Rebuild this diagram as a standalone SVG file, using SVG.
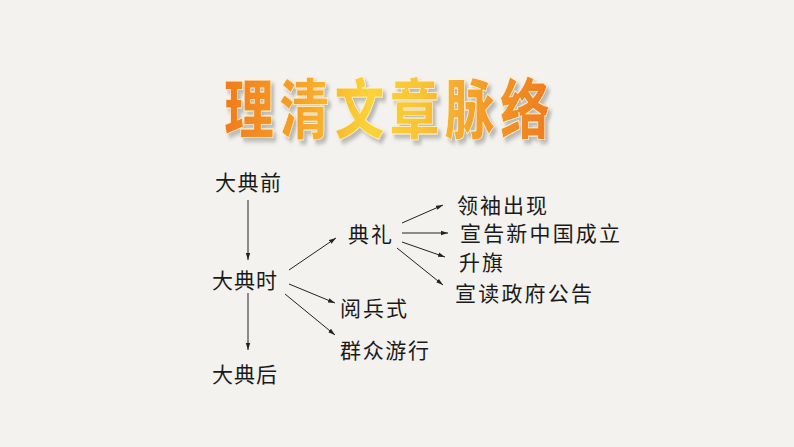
<svg xmlns="http://www.w3.org/2000/svg" width="794" height="447" viewBox="0 0 794 447">
  <defs>
    <style>
      .t { font-family: "Noto Sans CJK SC", "Noto Sans", sans-serif; font-size: 21px; fill: #1a1a1a; }
      .c line { stroke: #222; stroke-width: 1; marker-end: url(#ah); }
      .title { font-family: "Noto Sans CJK SC", sans-serif; font-weight: 900; font-size: 50px; }
    </style>
    <marker id="ah" markerUnits="userSpaceOnUse" markerWidth="8" markerHeight="6" refX="7" refY="3" orient="auto">
      <path d="M0,0.8 L7,3 L0,5.2 z" fill="#222"/>
    </marker>
    <linearGradient id="tg" gradientUnits="userSpaceOnUse" x1="222" y1="0" x2="552" y2="0">
      <stop offset="0" stop-color="#f07a1c"/>
      <stop offset="0.25" stop-color="#f6a52a"/>
      <stop offset="0.45" stop-color="#fad33a"/>
      <stop offset="0.6" stop-color="#f9c436"/>
      <stop offset="0.8" stop-color="#f39a2a"/>
      <stop offset="1" stop-color="#ee7b1f"/>
    </linearGradient>
    <filter id="sh" x="-10%" y="-20%" width="130%" height="150%">
      <feGaussianBlur in="SourceAlpha" stdDeviation="1.5"/>
      <feOffset dx="3" dy="3" result="b"/>
      <feFlood flood-color="#8a8a8a" flood-opacity="0.55"/>
      <feComposite in2="b" operator="in"/>
      <feMerge><feMergeNode/><feMergeNode in="SourceGraphic"/></feMerge>
    </filter>
  </defs>
  <rect width="794" height="447" fill="#f3f2ee"/>

  <g id="title" transform="scale(1,1.3)">
    <text class="title" x="224" y="102" textLength="326" lengthAdjust="spacing" fill="url(#tg)" stroke="#fff3d0" stroke-width="0.6" filter="url(#sh)">理清文章脉络</text>
  </g>

  <g id="connectors" class="c">
    <line x1="248" y1="200" x2="248" y2="260"/>
    <line x1="248" y1="293" x2="248" y2="350"/>
    <line x1="289" y1="270" x2="336" y2="238"/>
    <line x1="289" y1="284" x2="335" y2="303"/>
    <line x1="285" y1="294" x2="335" y2="335"/>
    <line x1="402" y1="223" x2="443" y2="205"/>
    <line x1="402" y1="233" x2="448" y2="233"/>
    <line x1="402" y1="242" x2="445" y2="257"/>
    <line x1="397" y1="248" x2="443" y2="285"/>
  </g>

  <g id="n-before"><text class="t" x="215" y="190" textLength="66">大典前</text></g>
  <g id="n-during"><text class="t" x="212" y="288" textLength="65">大典时</text></g>
  <g id="n-after"><text class="t" x="212" y="382" textLength="65">大典后</text></g>
  <g id="n-ceremony"><text class="t" x="348" y="242" textLength="44">典礼</text></g>
  <g id="n-parade"><text class="t" x="340" y="316" textLength="67">阅兵式</text></g>
  <g id="n-march"><text class="t" x="340" y="358" textLength="89">群众游行</text></g>
  <g id="n-leaders"><text class="t" x="457" y="213" textLength="90">领袖出现</text></g>
  <g id="n-announce"><text class="t" x="460" y="241" textLength="160">宣告新中国成立</text></g>
  <g id="n-flag"><text class="t" x="459" y="270" textLength="44">升旗</text></g>
  <g id="n-read"><text class="t" x="455" y="301" textLength="137">宣读政府公告</text></g>
</svg>
